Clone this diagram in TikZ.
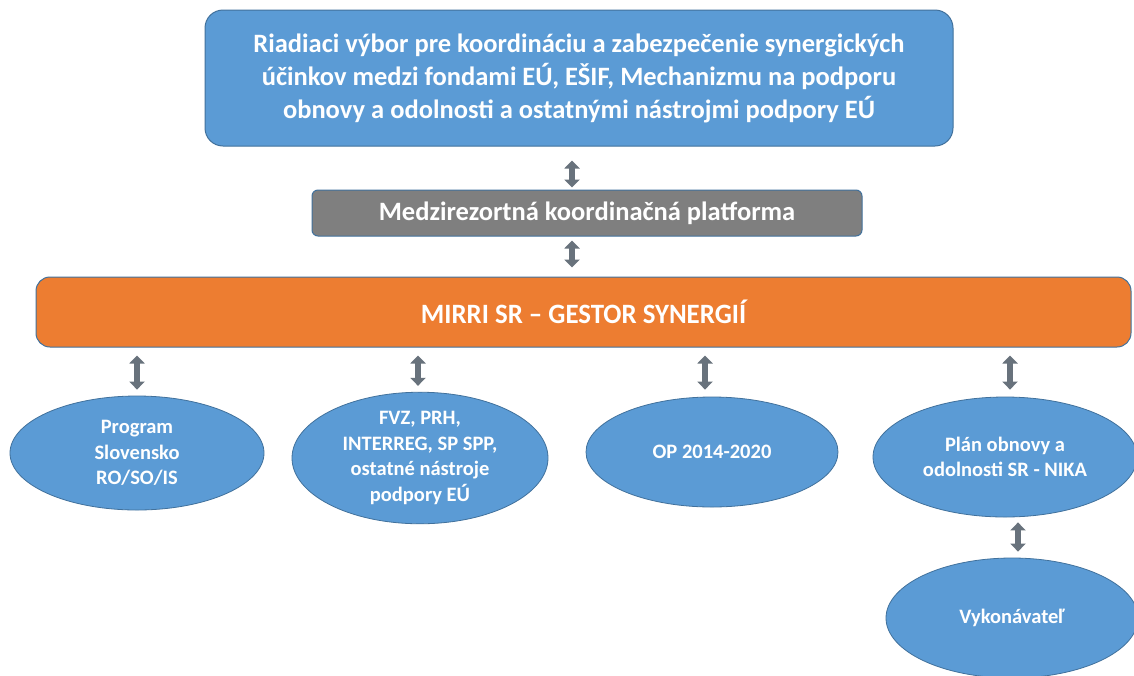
\documentclass[tikz,border=0pt]{standalone}
\usepackage{fontspec}
\setmainfont{Carlito}
\usetikzlibrary{arrows.meta,shapes.geometric,calc}
\definecolor{boxblue}{HTML}{5B9BD5}
\definecolor{edgeblue}{HTML}{41719C}
\definecolor{boxgray}{HTML}{7F7F7F}
\definecolor{boxorange}{HTML}{ED7D31}
\definecolor{arrowgray}{HTML}{68727C}
\tikzset{
  rbox/.style={draw=edgeblue, line width=1pt, text=white, font=\bfseries, align=center, inner sep=0pt},
  oval/.style={ellipse, draw=edgeblue, line width=0.8pt, fill=boxblue, text=white, font=\bfseries\fontsize{20.5}{25.5}\selectfont, align=center, inner sep=0pt},
  dblarrow/.style={draw=arrowgray, line width=5.5pt, {Triangle[width=15pt,length=8pt]}-{Triangle[width=15pt,length=8pt]}, shorten <=0pt, shorten >=0pt}
}
\begin{document}
\begin{tikzpicture}[x=1pt,y=-1pt]
\useasboundingbox (0,0) rectangle (1134,675);
\fill[white] (0,0) rectangle (1134,675);
\node[rbox, fill=boxblue, rounded corners=18pt, minimum width=748pt, minimum height=136pt, font=\bfseries\fontsize{26.5}{33}\selectfont] (top) at (579,78)
  {Riadiaci výbor pre koordináciu a zabezpečenie synergických\\účinkov medzi fondami EÚ, EŠIF, Mechanizmu na podporu\\obnovy a odolnosti a ostatnými nástrojmi podpory EÚ};
\node[rbox, fill=boxgray, rounded corners=6pt, minimum width=550pt, minimum height=46pt, font=\bfseries\fontsize{26.5}{30}\selectfont] (plat) at (587,213) {Medzirezortná koordinačná platforma};
\node[rbox, fill=boxorange, rounded corners=14pt, minimum width=1095pt, minimum height=70pt, font=\bfseries\fontsize{28}{30}\selectfont] (mirri) at (583.5,312) {\scalebox{0.96}[1]{MIRRI SR – GESTOR SYNERGIÍ}};
\node[oval, minimum width=254pt, minimum height=114pt] (e1) at (137,453) {Program\\Slovensko\\RO/SO/IS};
\node[oval, minimum width=256pt, minimum height=122pt] (e2) at (420,458) {FVZ, PRH,\\INTERREG, SP SPP,\\ostatné nástroje\\podpory EÚ};
\node[oval, minimum width=252pt, minimum height=110pt] (e3) at (712,452) {OP 2014-2020};
\node[oval, minimum width=264pt, minimum height=120pt] (e4) at (1005,457) {Plán obnovy a\\odolnosti SR - NIKA};
\node[oval, minimum width=252pt, minimum height=120pt] (e5) at (1012,618) {Vykonávateľ};
% arrow columns
\coordinate (c0) at (572,0);
\coordinate (c1) at (137,0);
\coordinate (c2) at (418,0);
\coordinate (c3) at (705,0);
\coordinate (c4) at (1010,0);
\coordinate (c5) at (1018,0);
\draw[dblarrow] ($(top.south -| c0)+(0,14)$) -- ($(plat.north -| c0)+(0,-2)$);
\draw[dblarrow] ($(plat.south -| c0)+(0,4)$) -- ($(mirri.north -| c0)+(0,-9)$);
\draw[dblarrow] ($(mirri.south -| c1)+(0,8)$) -- ($(e1.north -| c1)+(0,-6)$);
\draw[dblarrow] ($(mirri.south -| c2)+(0,8)$) -- ($(e2.north -| c2)+(0,-6)$);
\draw[dblarrow] ($(mirri.south -| c3)+(0,8)$) -- ($(e3.north -| c3)+(0,-7)$);
\draw[dblarrow] ($(mirri.south -| c4)+(0,8)$) -- ($(e4.north -| c4)+(0,-7)$);
\draw[dblarrow] ($(e4.south -| c5)+(0,5)$) -- ($(e5.north -| c5)+(0,-6)$);
\end{tikzpicture}
\end{document}
